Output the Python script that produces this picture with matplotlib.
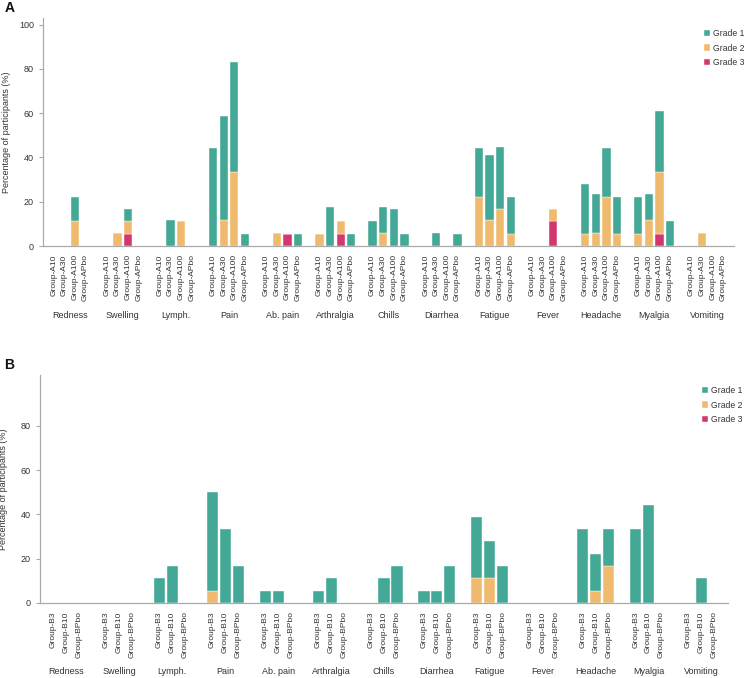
import matplotlib
matplotlib.use("Agg")
import matplotlib.pyplot as plt
from matplotlib.patches import Patch
import numpy as np

plt.rcParams['font.family'] = ['Liberation Sans', 'DejaVu Sans']

categories = ['Redness', 'Swelling', 'Lymph.', 'Pain', 'Ab. pain', 'Arthralgia', 'Chills',
              'Diarrhea', 'Fatigue', 'Fever', 'Headache', 'Myalgia', 'Vomiting']

groups_A = ['Group-A10', 'Group-A30', 'Group-A100', 'Group-APbo']
# rows: categories, cols: groups
A_grade1 = [[0, 0, 11.1, 0], [0, 0, 5.6, 0], [0, 11.8, 0, 0], [44.4, 47.0, 50.0, 5.6],
            [0, 0, 0, 5.6], [0, 17.6, 0, 5.6], [11.1, 11.8, 16.7, 5.6], [0, 5.9, 0, 5.6],
            [22.2, 29.4, 27.8, 16.7], [0, 0, 0, 0], [22.2, 17.6, 22.2, 16.7],
            [16.7, 11.8, 27.8, 11.1], [0, 0, 0, 0]]
A_grade2 = [[0, 0, 11.1, 0], [0, 5.9, 5.6, 0], [0, 0, 11.1, 0], [0, 11.8, 33.3, 0],
            [0, 5.9, 0, 0], [5.6, 0, 5.6, 0], [0, 5.9, 0, 0], [0, 0, 0, 0],
            [22.2, 11.8, 16.7, 5.6], [0, 0, 5.6, 0], [5.6, 5.9, 22.2, 5.6],
            [5.6, 11.8, 27.8, 0], [0, 5.9, 0, 0]]
A_grade3 = [[0, 0, 0, 0], [0, 0, 5.6, 0], [0, 0, 0, 0], [0, 0, 0, 0],
            [0, 0, 5.6, 0], [0, 0, 5.6, 0], [0, 0, 0, 0], [0, 0, 0, 0],
            [0, 0, 0, 0], [0, 0, 11.1, 0], [0, 0, 0, 0],
            [0, 0, 5.6, 0], [0, 0, 0, 0]]

groups_B = ['Group-B3', 'Group-B10', 'Group-BPbo']
B_grade1 = [[0, 0, 0], [0, 0, 0], [11.1, 16.7, 0], [44.4, 33.3, 16.7], [5.6, 5.6, 0],
            [5.6, 11.1, 0], [0, 11.1, 16.7], [5.6, 5.6, 16.7], [27.8, 16.7, 16.7],
            [0, 0, 0], [33.3, 16.7, 16.7], [33.3, 44.4, 0], [0, 11.1, 0]]
B_grade2 = [[0, 0, 0], [0, 0, 0], [0, 0, 0], [5.6, 0, 0], [0, 0, 0],
            [0, 0, 0], [0, 0, 0], [0, 0, 0], [11.1, 11.1, 0],
            [0, 0, 0], [0, 5.6, 16.7], [0, 0, 0], [0, 0, 0]]
B_grade3 = [[0, 0, 0] for _ in categories]

grade_labels = ['Grade 1', 'Grade 2', 'Grade 3']
colors = {'Grade 1': '#44A897', 'Grade 2': '#EFBA6D', 'Grade 3': '#D2386F'}

W, H = 745, 678
fig = plt.figure(figsize=(W / 100, H / 100), dpi=100)

axis_col = '#AAAAAA'
text_col = '#333333'


def panel(rect, groups, g1, g2, g3, step, width, yticks, label, label_y, legend_xy, cat_y, ylab_x):
    ax = fig.add_axes(rect)
    g1 = np.array(g1); g2 = np.array(g2); g3 = np.array(g3)
    n = len(groups)
    offs = (np.arange(n) - (n - 1) / 2) * step
    xs_all, labels_all = [], []
    for i in range(len(categories)):
        x = i + offs
        ax.bar(x, g3[i], width, color=colors['Grade 3'], edgecolor='white', linewidth=0.3)
        ax.bar(x, g2[i], width, bottom=g3[i], color=colors['Grade 2'], edgecolor='white', linewidth=0.3)
        ax.bar(x, g1[i], width, bottom=g3[i] + g2[i], color=colors['Grade 1'], edgecolor='white', linewidth=0.3)
        xs_all.extend(x)
        labels_all.extend(groups)
        ax.text(i, cat_y, categories[i], transform=ax.get_xaxis_transform(),
                ha='center', va='center', fontsize=6.5, color=text_col)
    ax.set_xticks(xs_all)
    ax.set_xticklabels(labels_all, rotation=90, fontsize=6, color=text_col)
    ax.tick_params(axis='x', length=0, pad=6)
    ax.set_xlim(-0.5, len(categories) - 0.5)
    ax.set_ylim(0, 103)
    ax.set_yticks(yticks)
    ax.tick_params(axis='y', labelsize=6.5, colors=axis_col, labelcolor=text_col, length=3, width=0.8)
    for s in ['top', 'right']:
        ax.spines[s].set_visible(False)
    for s in ['left', 'bottom']:
        ax.spines[s].set_color(axis_col)
        ax.spines[s].set_linewidth(0.9)
    ax.set_ylabel('Percentage of participants (%)', fontsize=6.5, color=text_col)
    ax.yaxis.set_label_coords(ylab_x, 0.5)
    handles = [Patch(facecolor=colors[g], edgecolor='white', linewidth=0.3, label=g) for g in grade_labels]
    fig.legend(handles=handles, loc='upper left', bbox_to_anchor=legend_xy, frameon=False,
               fontsize=6.2, handlelength=0.75, handleheight=0.75, handletextpad=0.3,
               labelspacing=0.65, labelcolor=text_col, borderpad=0, borderaxespad=0)
    fig.text(0.006, 1 - label_y / H, label,
             fontsize=10, fontweight='bold', ha='left', va='center', color='#111111')
    return ax


panel([43 / W, 1 - 246 / H, (734 - 43) / W, (246 - 18) / H], groups_A, A_grade1, A_grade2, A_grade3,
      0.2, 0.155, [0, 20, 40, 60, 80, 100], 'A', 8, (704 / W, 1 - 29 / H), -0.307, -0.047)
panel([40 / W, 1 - 603 / H, (728 - 40) / W, (603 - 375) / H], groups_B, B_grade1, B_grade2, B_grade3,
      0.245, 0.21, [0, 20, 40, 60, 80], 'B', 365, (702 / W, 1 - 386 / H), -0.30, -0.046)

fig.savefig('out.png', dpi=100)
